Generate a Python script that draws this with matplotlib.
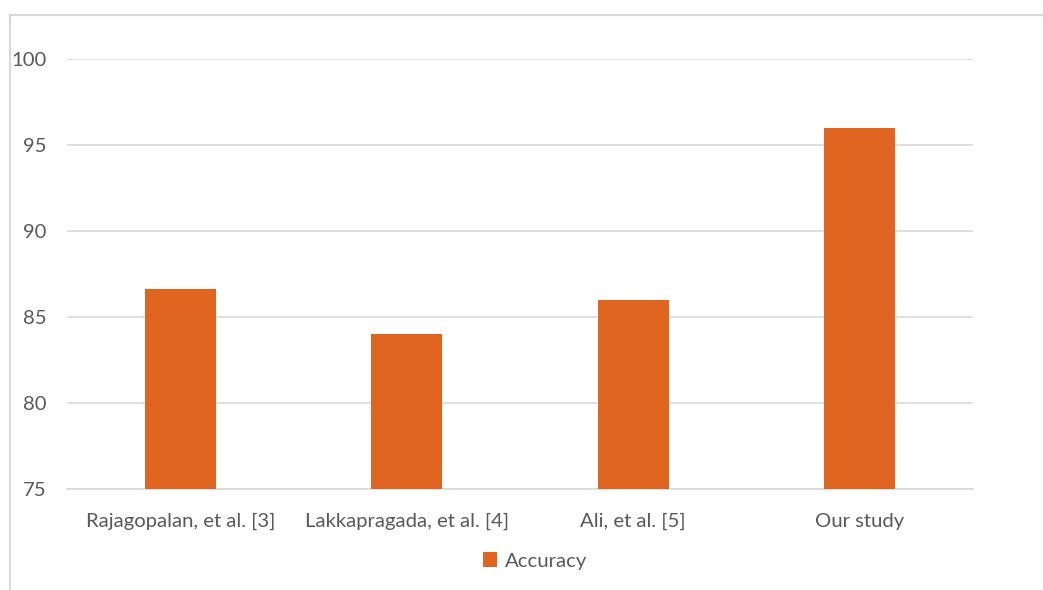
import matplotlib.pyplot as plt
from matplotlib.lines import Line2D

studies = ["Rajagopalan, et al. [3]", "Lakkapragada, et al. [4]", "Ali, et al. [5]", "Our study"]
accuracy = [86.6, 84.0, 86.0, 96.0]
y_ticks = [75, 80, 85, 90, 95, 100]

bar_color = "#DE6420"
text_color = "#595959"
grid_color = "#D9D9D9"

plt.rcParams["font.family"] = ["Lato", "DejaVu Sans"]

fig = plt.figure(figsize=(10.43, 5.9), dpi=100)
ax = fig.add_axes([0.0642, 0.1712, 0.8687, 0.7288])

x = range(len(studies))
ax.bar(x, accuracy, width=0.313, color=bar_color, zorder=3, label="Accuracy")

ax.set_xlim(-0.5, len(studies) - 0.5)
ax.set_ylim(y_ticks[0], y_ticks[-1])
ax.set_yticks(y_ticks)
ax.set_xticks(list(x))
ax.set_xticklabels(studies)
ax.yaxis.grid(True, color=grid_color, linewidth=1.2, zorder=0)
ax.tick_params(axis="both", length=0, labelsize=14.6, labelcolor=text_color)
ax.tick_params(axis="y", pad=15)
ax.tick_params(axis="x", pad=17)
for side in ["top", "right", "left"]:
    ax.spines[side].set_visible(False)
ax.spines["bottom"].set_color(grid_color)
ax.spines["bottom"].set_linewidth(1.2)

leg = fig.legend(loc="center", bbox_to_anchor=(0.513, 0.049), frameon=False,
                 fontsize=14.6, handlelength=0.7, handleheight=0.7, handletextpad=0.4)
for t in leg.get_texts():
    t.set_color(text_color)

# light chart frame on the left and top edges
fig.add_artist(Line2D([10 / 1043, 10 / 1043], [0, 1 - 15 / 590], transform=fig.transFigure,
                      color=grid_color, linewidth=1.5))
fig.add_artist(Line2D([10 / 1043, 1], [1 - 15 / 590, 1 - 15 / 590], transform=fig.transFigure,
                      color=grid_color, linewidth=1.5))

fig.savefig("out.png", dpi=100)
